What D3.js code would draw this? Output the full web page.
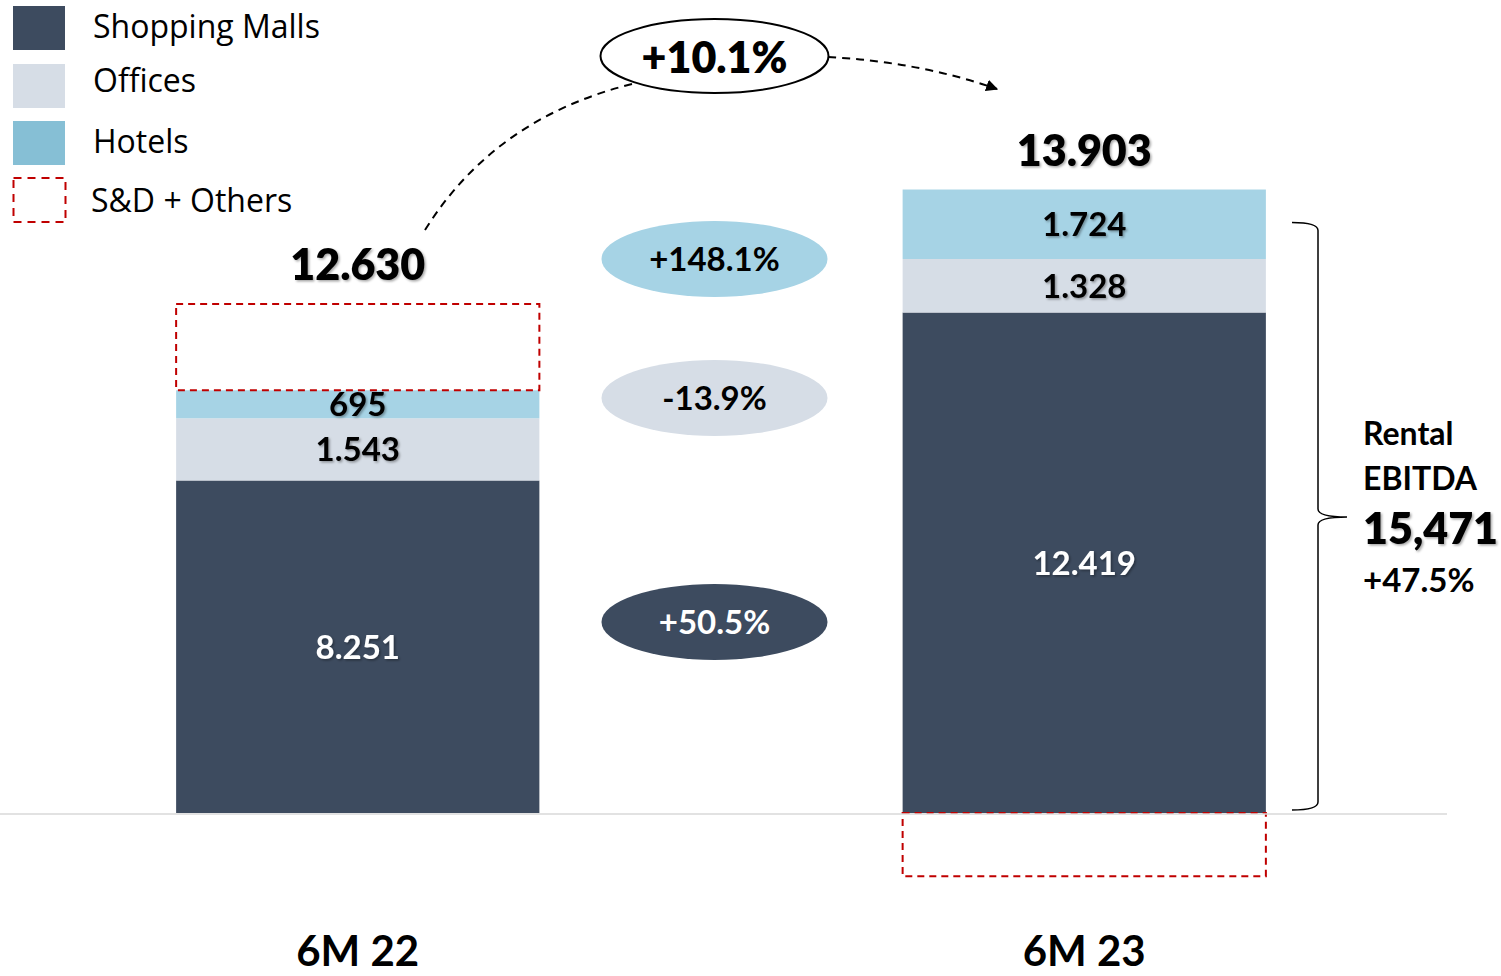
<!DOCTYPE html>
<html>
<head>
<meta charset="utf-8">
<script src="https://cdn.jsdelivr.net/npm/d3@7"></script>
<style>
html,body{margin:0;padding:0;background:#fff;}
svg{display:block;font-family:Lato,"Open Sans",sans-serif;}
</style>
</head>
<body>
<svg id="chart" width="1501" height="976"></svg>
<script>
// ---- data ----
const categories = ["6M 22", "6M 23"];
const seriesNames = ["Shopping Malls", "Offices", "Hotels", "S&D + Others"];
const shoppingMalls = [8251, 12419];
const offices = [1543, 1328];
const hotels = [695, 1724];
const sdOthers = [2141, -1568];
const totals = [12630, 13903];
const rentalEbitda = 15471;
const rentalGrowth = "+47.5%";
const growthLabels = {total: "+10.1%", hotels: "+148.1%", offices: "-13.9%", malls: "+50.5%"};

const colors = {malls: "#3D4B5F", offices: "#D6DDE6", hotels: "#A6D3E5", hotelsLegend: "#86BFD5", red: "#C00000"};

const svg = d3.select("#chart");
const defs = svg.append("defs");
const f = defs.append("filter").attr("id","shadow").attr("x","-10%").attr("y","-20%").attr("width","130%").attr("height","150%");
f.append("feDropShadow").attr("dx",1.5).attr("dy",1.5).attr("stdDeviation",1).attr("flood-color","#000").attr("flood-opacity",0.35);
const m = defs.append("marker").attr("id","arrow").attr("viewBox","0 0 10 10").attr("refX",9).attr("refY",5)
  .attr("markerWidth",6).attr("markerHeight",6).attr("orient","auto").attr("markerUnits","strokeWidth");
m.append("path").attr("d","M0,0 L10,5 L0,10 z").attr("fill","#000");

const x = d3.scaleBand().domain(categories).range([-5.5, 1447.5]).paddingInner(0.5).paddingOuter(0.25);
const y = d3.scaleLinear().domain([0, rentalEbitda]).range([813, 813 - rentalEbitda * 0.0403]);

const fmt = d3.formatLocale({decimal: ",", thousands: ".", grouping: [3], currency: ["", "€"]}).format(",d");

// stacked segments
const segs = [];
categories.forEach((c, i) => {
  let base = 0;
  [["malls", shoppingMalls[i]], ["offices", offices[i]], ["hotels", hotels[i]]].forEach(([k, v]) => {
    segs.push({cat: c, key: k, y0: base, y1: base + v, v});
    base += v;
  });
});

svg.append("g").selectAll("rect").data(segs).join("rect")
  .attr("x", d => x(d.cat)).attr("width", x.bandwidth())
  .attr("y", d => y(d.y1)).attr("height", d => y(d.y0) - y(d.y1))
  .attr("fill", d => colors[d.key]);

// S&D + Others dashed boxes
const sd = categories.map((c, i) => {
  const top = shoppingMalls[i] + offices[i] + hotels[i];
  const v = sdOthers[i];
  return v >= 0 ? {cat: c, a: top, b: top + v} : {cat: c, a: v, b: 0};
});
svg.append("g").selectAll("rect").data(sd).join("rect")
  .attr("x", d => x(d.cat)).attr("width", x.bandwidth())
  .attr("y", d => y(d.b)).attr("height", d => y(d.a) - y(d.b))
  .attr("fill", "none").attr("stroke", colors.red).attr("stroke-width", 2).attr("stroke-dasharray", "7,5");

// baseline
svg.append("line").attr("x1", 0).attr("x2", 1447).attr("y1", y(0) + 1).attr("y2", y(0) + 1)
  .attr("stroke", "#D9D9D9").attr("stroke-width", 1.5);

// segment labels
svg.append("g").selectAll("text").data(segs).join("text")
  .attr("x", d => x(d.cat) + x.bandwidth() / 2)
  .attr("y", d => (y(d.y0) + y(d.y1)) / 2 + 12)
  .attr("text-anchor", "middle").attr("font-weight", 700).attr("font-size", 33)
  .attr("fill", d => d.key === "malls" ? "#fff" : "#000")
  .attr("filter", "url(#shadow)")
  .text(d => fmt(d.v));

// totals
const totalTop = [totals[0], rentalEbitda];
svg.append("g").selectAll("text").data(categories).join("text")
  .attr("x", d => x(d) + x.bandwidth() / 2)
  .attr("y", (d, i) => y(totalTop[i]) - 24)
  .attr("text-anchor", "middle").attr("font-weight", 800).attr("font-size", 43)
  .attr("filter", "url(#shadow)")
  .text((d, i) => fmt(totals[i]));

// category labels
svg.append("g").selectAll("text").data(categories).join("text")
  .attr("x", d => x(d) + x.bandwidth() / 2).attr("y", 966)
  .attr("text-anchor", "middle").attr("font-weight", 700).attr("font-size", 42)
  .text(d => d);

// legend
const legend = svg.append("g");
const legRows = [
  {name: seriesNames[0], fill: colors.malls, y: 6, ty: 38},
  {name: seriesNames[1], fill: colors.offices, y: 64, ty: 92},
  {name: seriesNames[2], fill: colors.hotelsLegend, y: 121, ty: 153},
  {name: seriesNames[3], fill: "none", y: 178, dashed: true, ty: 212}
];
legRows.forEach(r => {
  legend.append("rect").attr("x", r.dashed ? 13.5 : 13).attr("y", r.y).attr("width", 52).attr("height", 44)
    .attr("fill", r.fill)
    .attr("stroke", r.dashed ? colors.red : "none").attr("stroke-width", 2).attr("stroke-dasharray", "8,6");
  legend.append("text").attr("x", r.dashed ? 91 : 93).attr("y", r.ty)
    .attr("font-family", "'Open Sans', Lato, sans-serif").attr("font-size", 32).attr("fill", "#000").text(r.name);
});

// growth ellipses
const midX = (x(categories[0]) + x.bandwidth() + x(categories[1])) / 2 - 6.5;
const ell = [
  {label: growthLabels.hotels, cy: 259, fill: colors.hotels, tc: "#000"},
  {label: growthLabels.offices, cy: 398, fill: colors.offices, tc: "#000"},
  {label: growthLabels.malls, cy: 622, fill: colors.malls, tc: "#fff"}
];
ell.forEach(e => {
  svg.append("ellipse").attr("cx", midX).attr("cy", e.cy).attr("rx", 113).attr("ry", 38).attr("fill", e.fill);
  svg.append("text").attr("x", midX).attr("y", e.cy + 12).attr("text-anchor", "middle")
    .attr("font-weight", 700).attr("font-size", 33).attr("fill", e.tc).text(e.label);
});

// total growth ellipse + arrow
svg.append("path").attr("d", "M425,230 Q495,118 632,84").attr("fill", "none").attr("stroke", "#000")
  .attr("stroke-width", 2).attr("stroke-dasharray", "8,6");
svg.append("path").attr("d", "M828,57 Q920,62 997,89").attr("fill", "none").attr("stroke", "#000")
  .attr("stroke-width", 2).attr("stroke-dasharray", "8,6").attr("marker-end", "url(#arrow)");
svg.append("ellipse").attr("cx", midX).attr("cy", 56).attr("rx", 114).attr("ry", 37)
  .attr("fill", "#fff").attr("stroke", "#000").attr("stroke-width", 2);
svg.append("text").attr("x", midX).attr("y", 73).attr("text-anchor", "middle")
  .attr("font-weight", 800).attr("font-size", 43).text(growthLabels.total);

// brace
const bTop = y(rentalEbitda) + 33, bBot = y(0) - 3, bMid = 517;
const bx = 1318;
svg.append("path").attr("d",
  `M1292,${bTop} Q${bx},${bTop} ${bx},${bTop + 8} L${bx},${bMid - 8} Q${bx},${bMid} 1347,${bMid} Q${bx},${bMid} ${bx},${bMid + 8} L${bx},${bBot - 8} Q${bx},${bBot} 1292,${bBot}`)
  .attr("fill", "none").attr("stroke", "#000").attr("stroke-width", 1.5);

// rental EBITDA annotation
const ann = svg.append("g").attr("font-weight", 700);
ann.append("text").attr("x", 1363).attr("y", 445).attr("font-size", 32).text("Rental");
ann.append("text").attr("x", 1363).attr("y", 490).attr("font-size", 32).text("EBITDA");
ann.append("text").attr("x", 1363).attr("y", 544).attr("font-size", 43).attr("font-weight", 800)
  .attr("filter", "url(#shadow)").text(d3.format(",d")(rentalEbitda));
ann.append("text").attr("x", 1363).attr("y", 592).attr("font-size", 33).text(rentalGrowth);
</script>
</body>
</html>
